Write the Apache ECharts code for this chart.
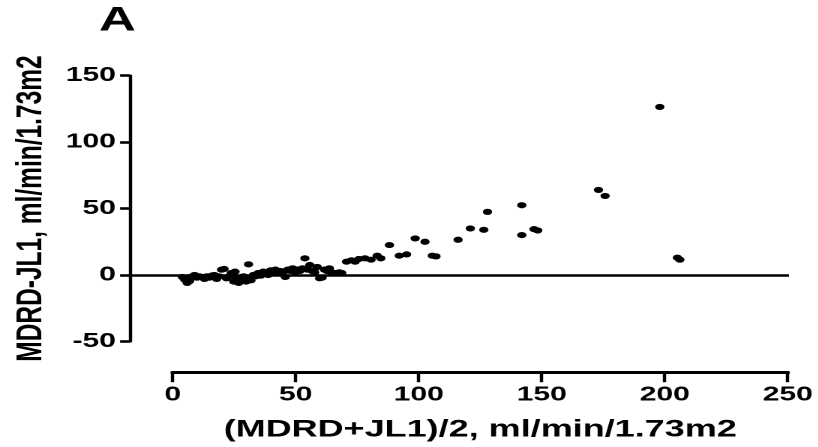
<!DOCTYPE html>
<html><head><meta charset="utf-8">
<script src="https://cdn.jsdelivr.net/npm/echarts@6/dist/echarts.min.js"></script>
<style>
html,body{margin:0;padding:0;overflow:hidden;background:#fff;width:818px;height:447px}
#c{width:545.333px;height:447px;transform:scaleX(1.5);transform-origin:0 0;}
</style>
</head><body><div id="c"></div>
<script>
// ---- data ----
const panelLabel = 'A';
const xAxisTitle = '(MDRD+JL1)/2, ml/min/1.73m2';
const yAxisTitle = 'MDRD-JL1, ml/min/1.73m2';
const xTicks = [0, 50, 100, 150, 200, 250];
const yTicks = [-50, 0, 50, 100, 150];
const meanValues = [3,4,5,5.5,6,7,8,9,10,11,12,13,14,15,16,17,18,19,20,21,22,23,24,24.5,25,26,27,28,29,30,30.5,31,32,33,34,35,36,37,38,39,40,41,42,43,44,45,46,47,48,49,50,51,52,53,54,55,56,57,58,59,60,61,62,63,64,65,67,68,70,72,73.5,75,77.5,80,82.5,84,87.5,91.5,94.5,98,102,105,106.5,115.5,120.5,126,127.5,141.5,141.5,146.5,148,172.8,175.5,197.8,205,206];
const diffValues = [-1.5,-3.5,-6,-2.5,-4.5,-1,0,-2,-1,-1.5,-3,-1,-2,-0.5,0,-3,-1,4,4.5,-2.5,-1,1.5,-5,2.5,-3,-6,-2,-1,-5,8,-2.5,-4,0,-1,1.5,-0.5,2.5,1,0,3.5,2,4,1.5,3,2,-1.5,4,3,5,2,4,3,5,12.5,4,7.5,3,2,6,-2.5,-2,4,3,5,2,1.5,2,1.5,10,11,10,12,12.5,11.5,14.5,12.5,22.5,14.5,15.5,27.5,25,14.5,14,26.5,35,34,47.5,52.5,30,34.5,33.5,64,59.5,126.5,13,11.5];

// ---- layout (unstretched px; page is stretched 1.5x horizontally like the reference) ----
const S = 1.5;
const W = 818 / S;
const yAxisX = 127.7 / S, x0px = 172.7 / S, x250px = 787.7 / S, zeroEnd = 789 / S;
const unit = (x250px - x0px) / 250;
const g1min = -(x0px - yAxisX) / unit;
const g1max = 250 + (zeroEnd - x250px) / unit;
const TOP = 75.7, BOTTOM = 447 - 341.4;
const FONT = 'Liberation Sans, Arial, sans-serif';

const chart = echarts.init(document.getElementById('c'), null, {renderer: 'canvas', devicePixelRatio: 2, width: W, height: 447});
chart.setOption({
  animation: false,
  backgroundColor: '#fff',
  title: {text: panelLabel, left: 66, top: 4, padding: 0,
    textStyle: {fontSize: 34, fontWeight: 'bold', color: '#000', fontFamily: FONT}},
  grid: [
    {left: yAxisX, right: W - zeroEnd, top: TOP, bottom: BOTTOM},
    {left: x0px, right: W - x250px, top: TOP, bottom: BOTTOM}
  ],
  xAxis: [
    {type: 'value', gridIndex: 0, min: g1min, max: g1max, show: false},
    {type: 'value', gridIndex: 1, min: xTicks[0], max: xTicks[xTicks.length - 1],
      interval: xTicks[1] - xTicks[0], offset: 31.3,
      axisLine: {onZero: false, lineStyle: {color: '#000', width: 3}},
      axisTick: {length: 9.5, lineStyle: {color: '#000', width: 2.2}},
      axisLabel: {fontSize: 20, fontWeight: 'bold', color: '#000', margin: 12.5, fontFamily: FONT},
      splitLine: {show: false},
      name: xAxisTitle, nameLocation: 'middle', nameGap: 45,
      nameTextStyle: {fontSize: 24, fontWeight: 'bold', color: '#000', fontFamily: FONT}}
  ],
  yAxis: [
    {type: 'value', gridIndex: 0, min: yTicks[0], max: yTicks[yTicks.length - 1],
      interval: yTicks[1] - yTicks[0],
      axisLine: {show: true, onZero: false, lineStyle: {color: '#000', width: 2.2}},
      axisTick: {show: true, length: 6.7, lineStyle: {color: '#000', width: 2.6}},
      axisLabel: {fontSize: 20, fontWeight: 'bold', color: '#000', margin: 9.5, fontFamily: FONT},
      splitLine: {show: false},
      name: yAxisTitle, nameLocation: 'middle', nameGap: 51,
      nameTextStyle: {fontSize: 24.5, fontWeight: 'bold', color: '#000', fontFamily: FONT}},
    {type: 'value', gridIndex: 1, min: yTicks[0], max: yTicks[yTicks.length - 1], show: false}
  ],
  series: [{
    type: 'scatter', xAxisIndex: 0, yAxisIndex: 0,
    data: meanValues.map((m, i) => [m, diffValues[i]]),
    symbol: 'circle', symbolSize: 6.2,
    itemStyle: {color: '#000', opacity: 1},
    markLine: {silent: true, symbol: ['none', 'none'], label: {show: false},
      lineStyle: {color: '#000', width: 2.6, type: 'solid'},
      data: [{yAxis: 0}]}
  }]
});
</script>
</body></html>
